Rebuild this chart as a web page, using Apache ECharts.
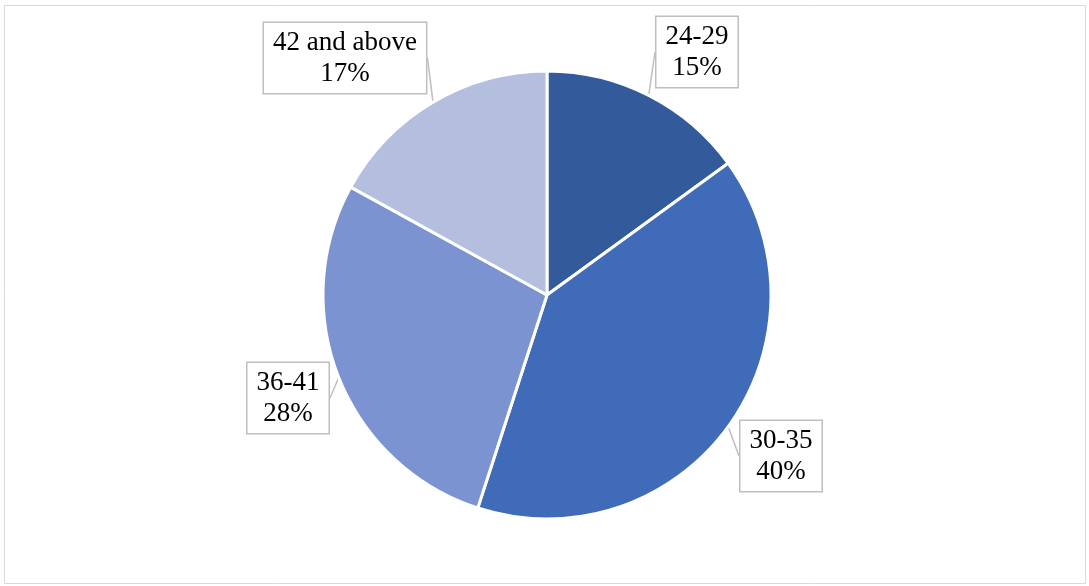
<!DOCTYPE html>
<html>
<head>
<meta charset="utf-8">
<script src="https://cdn.jsdelivr.net/npm/echarts@6/dist/echarts.min.js"></script>
<style>
html,body{margin:0;padding:0;background:#fff;}
#chart{width:1089px;height:586px;}
</style>
</head>
<body>
<div id="chart"></div>
<script>
const categories = ['24-29', '30-35', '36-41', '42 and above'];
const values = [15, 40, 28, 17];
const colors = ['#335a9a', '#3f6bb9', '#7b93d0', '#b4bedf'];
// label box centres (callout placement)
const labelPos = [[697, 52], [781, 456], [288, 398], [345, 58]];

const chart = echarts.init(document.getElementById('chart'), null, {renderer: 'canvas'});
chart.setOption({
  animation: false,
  backgroundColor: '#ffffff',
  graphic: [{
    type: 'rect',
    shape: {x: 4.5, y: 5.5, width: 1081, height: 578},
    style: {fill: 'none', stroke: '#d9d9d9', lineWidth: 1}
  }],
  series: [{
    type: 'pie',
    center: [547, 295],
    radius: [0, 224],
    startAngle: 90,
    clockwise: true,
    data: categories.map((c, i) => ({name: c, value: values[i], itemStyle: {color: colors[i]}})),
    itemStyle: {borderColor: '#ffffff', borderWidth: 3},
    label: {
      show: true,
      position: 'outside',
      formatter: p => p.name + '\n' + p.value + '%',
      fontFamily: '"Liberation Serif", "Times New Roman", serif',
      fontSize: 27,
      lineHeight: 31,
      color: '#000000',
      backgroundColor: '#ffffff',
      borderColor: '#bfbfbf',
      borderWidth: 1.5,
      padding: [4, 9, 4, 9],
      align: 'center'
    },
    labelLine: {
      show: true,
      length: 0,
      length2: 0,
      lineStyle: {color: '#bfbfbf', width: 1.5}
    },
    labelLayout: function (params) {
      const pos = labelPos[params.dataIndex];
      return {x: pos[0], y: pos[1], align: 'center', verticalAlign: 'middle'};
    },
    emphasis: {disabled: true}
  }]
});
</script>
</body>
</html>
